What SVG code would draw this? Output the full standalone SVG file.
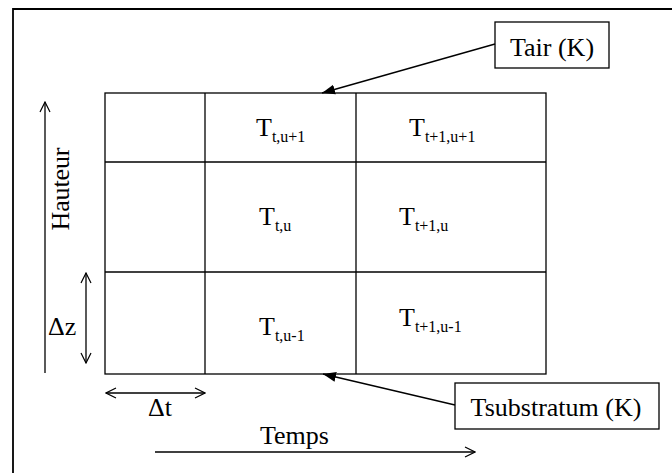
<svg xmlns="http://www.w3.org/2000/svg" width="672" height="473" viewBox="0 0 672 473">
<defs>
<style>
.ln{stroke:#000;stroke-width:1.3;fill:none}
.bx{stroke:#000;stroke-width:1.3;fill:#fff}
.t{font-family:"Liberation Serif","Times New Roman",serif;font-size:26px;fill:#000}
.s{font-size:16px}
</style>
<marker id="open" markerWidth="12" markerHeight="12" refX="11" refY="6" orient="auto-start-reverse" markerUnits="userSpaceOnUse">
<path d="M1,1 L11,6 L1,11" fill="none" stroke="#000" stroke-width="1.2"/>
</marker>
<marker id="fill" markerWidth="14" markerHeight="12" refX="13" refY="6" orient="auto" markerUnits="userSpaceOnUse">
<path d="M0,1 L13,6 L0,11 Z" fill="#000"/>
</marker>
</defs>
<rect width="672" height="473" fill="#fff"/>
<path d="M13,473 V9 H672" stroke="#000" stroke-width="1.8" fill="none"/>

<g id="grid">
<rect class="ln" x="105" y="93" width="441" height="281"/>
<line class="ln" x1="205" y1="93" x2="205" y2="374"/>
<line class="ln" x1="356" y1="93" x2="356" y2="374"/>
<line class="ln" x1="105" y1="162" x2="546" y2="162"/>
<line class="ln" x1="105" y1="272" x2="546" y2="272"/>
</g>

<g id="cells">
<text class="t" x="256" y="136">T<tspan class="s" dy="6">t,u+1</tspan></text>
<text class="t" x="409" y="136">T<tspan class="s" dy="6">t+1,u+1</tspan></text>
<text class="t" x="259" y="225">T<tspan class="s" dy="6">t,u</tspan></text>
<text class="t" x="399" y="225">T<tspan class="s" dy="6">t+1,u</tspan></text>
<text class="t" x="259" y="335">T<tspan class="s" dy="6">t,u-1</tspan></text>
<text class="t" x="399" y="326">T<tspan class="s" dy="6">t+1,u-1</tspan></text>
</g>

<g id="tair">
<rect class="bx" x="495" y="22" width="114" height="46"/>
<text class="t" x="552" y="56" text-anchor="middle">Tair (K)</text>
</g>

<g id="tsubstratum">
<rect class="bx" x="455" y="383" width="204" height="46"/>
<text class="t" x="556" y="416" text-anchor="middle">Tsubstratum (K)</text>
</g>

<g id="hauteur">
<text class="t" transform="translate(69,189) rotate(-90)" text-anchor="middle" textLength="83">Hauteur</text>
</g>

<g id="dz">
<text class="t" x="48" y="335">Δz</text>
</g>

<g id="dt">
<text class="t" x="148" y="416">Δt</text>
</g>

<g id="temps">
<text class="t" x="294.5" y="444" text-anchor="middle">Temps</text>
</g>

<g id="connectors">
<line class="ln" x1="45" y1="373" x2="45" y2="102" marker-end="url(#open)"/>
<line class="ln" x1="86" y1="273" x2="86" y2="363" marker-start="url(#open)" marker-end="url(#open)"/>
<line class="ln" x1="106" y1="393" x2="205" y2="393" marker-start="url(#open)" marker-end="url(#open)"/>
<line class="ln" x1="155" y1="452" x2="475" y2="452" marker-end="url(#open)"/>
<line class="ln" x1="495" y1="44" x2="322" y2="93" marker-end="url(#fill)"/>
<line class="ln" x1="455" y1="405" x2="323" y2="374" marker-end="url(#fill)"/>
</g>
</svg>
